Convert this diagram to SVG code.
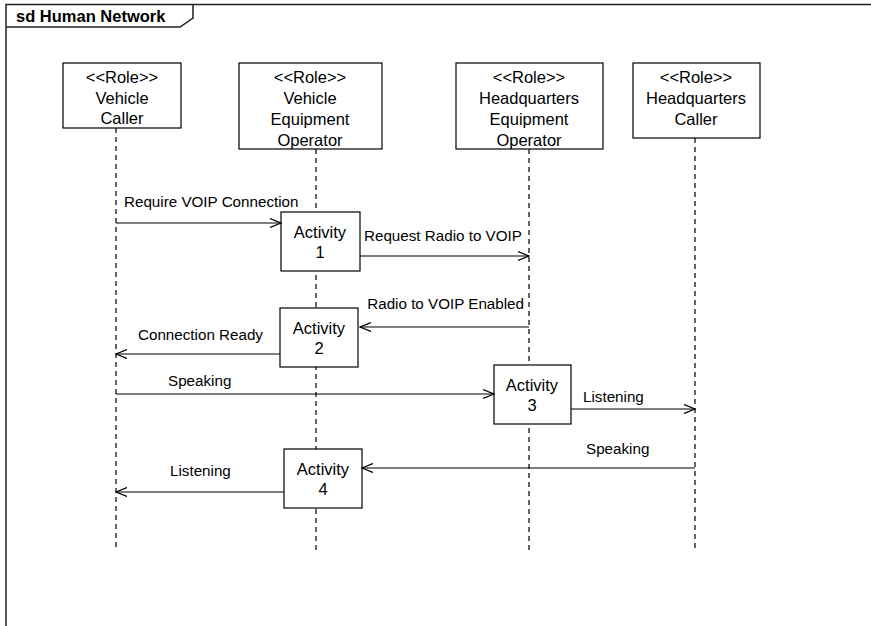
<svg xmlns="http://www.w3.org/2000/svg" width="871" height="626" viewBox="0 0 871 626">
<defs>
<style>
text{font-family:"Liberation Sans",Arial,sans-serif;font-size:15.2px;fill:#000}
.t{font-weight:bold;font-size:16.5px}
.n{font-size:16.5px;text-anchor:middle}
.box{fill:#fff;stroke:#000;stroke-width:1.2}
.life{stroke:#000;stroke-width:1.2;stroke-dasharray:5,4;fill:none}
.msg{stroke:#000;stroke-width:1.2;fill:none;marker-end:url(#arr)}
.frame{stroke:#222;stroke-width:1.5;fill:none}
</style>
<marker id="arr" viewBox="0 0 12 10" refX="11" refY="5" markerWidth="12" markerHeight="10" markerUnits="userSpaceOnUse" orient="auto">
<path d="M0,0.5 L11,5 L0,9.5" fill="none" stroke="#000" stroke-width="1.2"/>
</marker>
</defs>
<rect width="871" height="626" fill="#fff"/>
<g id="frame">
<path class="frame" d="M6,626 V4.5 H871"/>
<path class="frame" d="M6,27 H180 L193,18 V4.5"/>
<text class="t" x="16" y="22">sd Human Network</text>
</g>
<g id="lifelines">
<line class="life" x1="116" y1="128" x2="116" y2="550"/>
<line class="life" x1="316" y1="149" x2="316" y2="550"/>
<line class="life" x1="529" y1="149" x2="529" y2="550"/>
<line class="life" x1="695" y1="138" x2="695" y2="550"/>
</g>
<g id="vehicle-caller">
<rect class="box" x="63" y="63" width="118" height="65"/>
<text class="n" x="122" y="83">&lt;&lt;Role&gt;&gt;</text>
<text class="n" x="122" y="104">Vehicle</text>
<text class="n" x="122" y="124">Caller</text>
</g>
<g id="vehicle-equipment-operator">
<rect class="box" x="239" y="63" width="143" height="86"/>
<text class="n" x="310" y="83">&lt;&lt;Role&gt;&gt;</text>
<text class="n" x="310" y="104">Vehicle</text>
<text class="n" x="310" y="125">Equipment</text>
<text class="n" x="310" y="146">Operator</text>
</g>
<g id="hq-equipment-operator">
<rect class="box" x="456" y="63" width="147" height="86"/>
<text class="n" x="529" y="83">&lt;&lt;Role&gt;&gt;</text>
<text class="n" x="529" y="104">Headquarters</text>
<text class="n" x="529" y="125">Equipment</text>
<text class="n" x="529" y="146">Operator</text>
</g>
<g id="hq-caller">
<rect class="box" x="633" y="63" width="127" height="75"/>
<text class="n" x="696" y="83">&lt;&lt;Role&gt;&gt;</text>
<text class="n" x="696" y="104">Headquarters</text>
<text class="n" x="696" y="125">Caller</text>
</g>
<g id="activity1">
<rect class="box" x="281" y="212" width="79" height="59"/>
<text class="n" x="320" y="238">Activity</text>
<text class="n" x="320" y="258">1</text>
</g>
<g id="activity2">
<rect class="box" x="280" y="308" width="78" height="59"/>
<text class="n" x="319" y="334">Activity</text>
<text class="n" x="319" y="354">2</text>
</g>
<g id="activity3">
<rect class="box" x="494" y="365" width="77" height="59"/>
<text class="n" x="532" y="391">Activity</text>
<text class="n" x="532" y="411">3</text>
</g>
<g id="activity4">
<rect class="box" x="284" y="449" width="78" height="59"/>
<text class="n" x="323" y="475">Activity</text>
<text class="n" x="323" y="495">4</text>
</g>
<g id="connectors">
<line class="msg" x1="116" y1="223" x2="281" y2="223"/>
<text x="124" y="207">Require VOIP Connection</text>
<line class="msg" x1="360" y1="256" x2="529" y2="256"/>
<text x="364" y="241">Request Radio to VOIP</text>
<line class="msg" x1="529" y1="327" x2="360" y2="327"/>
<text x="524" y="309" text-anchor="end">Radio to VOIP Enabled</text>
<line class="msg" x1="280" y1="354" x2="116" y2="354"/>
<text x="138" y="340">Connection Ready</text>
<line class="msg" x1="116" y1="394" x2="494" y2="394"/>
<text x="168" y="386">Speaking</text>
<line class="msg" x1="571" y1="409" x2="695" y2="409"/>
<text x="583" y="402">Listening</text>
<line class="msg" x1="695" y1="468" x2="362" y2="468"/>
<text x="586" y="454">Speaking</text>
<line class="msg" x1="284" y1="492" x2="116" y2="492"/>
<text x="170" y="476">Listening</text>
</g>
</svg>
